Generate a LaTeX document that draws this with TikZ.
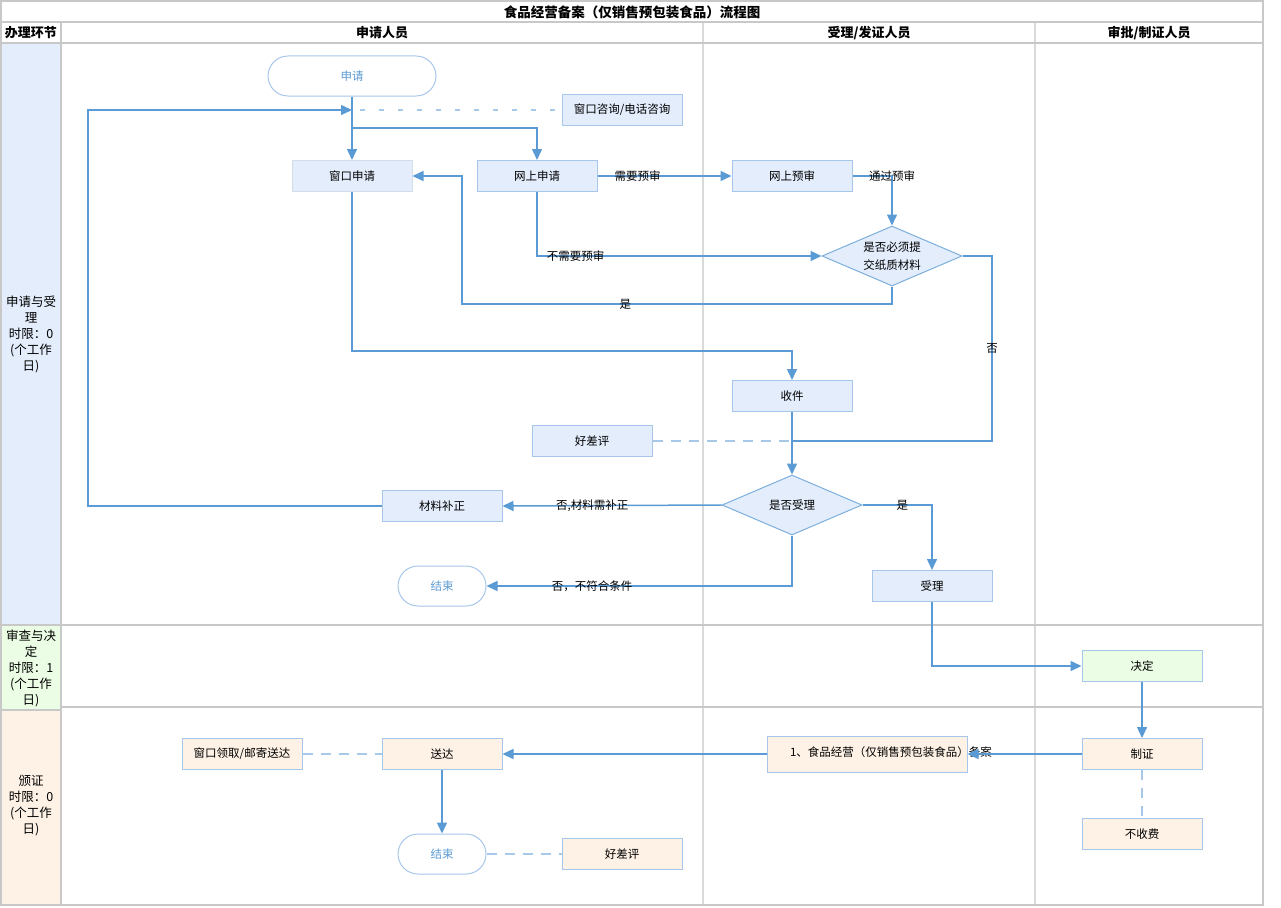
\documentclass[tikz,border=0pt]{standalone}
\usepackage{fontspec}
\setmainfont{Noto Sans CJK SC}
\usetikzlibrary{arrows.meta,shapes.geometric}
\definecolor{lineblue}{HTML}{5B9BD5}
\definecolor{boxfill}{HTML}{E3EDFC}
\definecolor{boxdraw}{HTML}{A7C7EA}
\definecolor{greyedge}{HTML}{D3DCE8}
\definecolor{dashblue}{HTML}{A8C8EA}
\definecolor{gridout}{HTML}{C8C8C8}
\definecolor{gridin}{HTML}{DADADA}
\definecolor{greenfill}{HTML}{EBFDE4}
\definecolor{peachfill}{HTML}{FEF2E6}
\newcommand{\fs}{\fontsize{11.5}{14}\selectfont}
\newcommand{\fl}{\fontsize{12.5}{16}\selectfont}
\begin{document}
\begin{tikzpicture}[x=1pt,y=-1pt,
  box/.style={draw=boxdraw, fill=boxfill, line width=1pt, minimum width=120pt, minimum height=31pt, inner sep=0pt, font=\fs},
  gbox/.style={box, fill=greenfill},
  pbox/.style={box, fill=peachfill},
  terminal/.style={draw=boxdraw, fill=white, line width=1pt, rounded corners=20pt, minimum height=40pt, inner sep=0pt, text=lineblue, font=\fs},
  decision/.style={diamond, aspect=2.33, draw=lineblue!80, fill=boxfill, line width=1pt, minimum width=140pt, minimum height=60pt, inner sep=0pt, align=center, font=\fs},
  conn/.style={draw=lineblue, line width=1.5pt, -{Triangle[length=11pt,width=10pt]}},
  plain/.style={draw=lineblue, line width=1.5pt},
  dashc/.style={draw=dashblue, line width=1.8pt, dash pattern=on 10pt off 8pt},
  dotc/.style={draw=dashblue, line width=1.8pt, dash pattern=on 5pt off 14pt},
  lbl/.style={font=\fs, inner sep=1pt},
  hdr/.style={font=\fontsize{13}{15}\selectfont\bfseries, inner sep=0pt},
  side/.style={font=\fl, align=center, inner sep=0pt}
]
\useasboundingbox (0,0) rectangle (1281,907);
% left column fills
\fill[boxfill] (1,43) rectangle (61,625);
\fill[greenfill] (1,625) rectangle (61,710);
\fill[peachfill] (1,710) rectangle (61,905);
% grid
\draw[gridin, line width=1.5pt] (703,22) -- (703,905);
\draw[gridin, line width=1.5pt] (1035,22) -- (1035,905);
\draw[gridout, line width=1.5pt] (61,625) -- (1263,625);
\draw[gridout, line width=1.5pt] (61,707) -- (1263,707);
\draw[gridout, line width=1.5pt] (1,625) -- (61,625);
\draw[gridout, line width=1.5pt] (1,710) -- (61,710);
\draw[gridout, line width=1.5pt] (61,22) -- (61,905);
\draw[gridout, line width=1.5pt] (1,22) -- (1263,22);
\draw[gridout, line width=1.5pt] (1,43) -- (1263,43);
\draw[gridout, line width=2pt] (1,1) rectangle (1263,905);
% headers
\node[hdr] (title) at (632,12) {\fontsize{13.5}{15}\selectfont 食品经营备案（仅销售预包装食品）流程图};
\node[hdr] (h0) at (31,33) {办理环节};
\node[hdr] (h1) at (382,33) {申请人员};
\node[hdr] (h2) at (869,33) {受理/发证人员};
\node[hdr] (h3) at (1149,33) {审批/制证人员};
\node[side] (s1) at (31,334) {申请与受\\理\\时限：0\\(个工作\\日)};
\node[side] (s2) at (31,668) {审查与决\\定\\时限：1\\(个工作\\日)};
\node[side] (s3) at (31,806) {颁证\\时限：0\\(个工作\\日)};
% nodes
\node[terminal, minimum width=168pt] (start) at (352,76) {申请};
\node[box] (zx) at (622,110) {窗口咨询/电话咨询};
\node[box, draw=greyedge] (wksq) at (352,176) {窗口申请};
\node[box] (wssq) at (537,176) {网上申请};
\node[box] (wsys) at (792,176) {网上预审};
\node[decision] (zz) at (892,256) {是否必须提\\[4pt]交纸质材料};
\node[box] (sj) at (792,396) {收件};
\node[box] (hcp1) at (592,441) {好差评};
\node[decision] (sfsl) at (792,505) {是否受理};
\node[box] (clbz) at (442,506) {材料补正};
\node[terminal, minimum width=88pt] (end1) at (442,586) {结束};
\node[box] (sl) at (932,586) {受理};
\node[gbox] (jd) at (1142,666) {决定};
\node[pbox] (zz2) at (1142,754) {制证};
\node[pbox] (bsf) at (1142,834) {不收费};
\node[pbox, minimum width=200pt, minimum height=36pt] (ba) at (867,754) {};
\node[lbl, inner sep=0pt] (batxt) at (891,752) {1、食品经营（仅销售预包装食品）备案};
\node[pbox] (sd) at (442,754) {送达};
\node[pbox] (lq) at (242,754) {窗口领取/邮寄送达};
\node[terminal, minimum width=88pt] (end2) at (442,854) {结束};
\node[pbox] (hcp2) at (622,854) {好差评};
% coordinates
\coordinate (j1) at (352,110);
\coordinate (br) at (352,128);
\coordinate (j2) at (792,441);
% connectors
\draw[conn] (start) -- (wksq);
\draw[conn] (br) -| (wssq);
\draw[conn] (clbz.west) -- (88,506) -- (88,110) -- (j1);
\draw[dotc] ([xshift=8pt]j1) -- (zx.west);
\draw[conn] (wssq) -- node[lbl, pos=0.3] (l1) {需要预审} (wsys);
\draw[conn] (wsys.east) -| node[lbl, pos=0.5] (l2) {通过预审} (zz.north);
\draw[conn] (wssq.south) |- node[lbl, pos=0.568] (l3) {不需要预审} (zz.west);
\draw[conn] (zz.south) -- (892,304) -- node[lbl, pos=0.62] (l4) {是} (462,304) -- (462,176) -- (wksq.east);
\draw[plain] (zz.east) -- (992,256) -- node[lbl, pos=0.5] (l5) {否} (992,441) -- (j2);
\draw[conn] (wksq.south) -- (352,351) -| (sj.north);
\draw[conn] (sj) -- (sfsl);
\draw[dashc] (hcp1.east) -- (j2);
\draw[conn] (sfsl.west) -- node[lbl, pos=0.59] (l6) {否,材料需补正} (clbz.east);
\draw[conn] (sfsl.south) |- node[lbl, pos=0.827] (l7) {否，不符合条件} (end1.east);
\draw[conn] (sfsl.east) -| node[lbl, pos=0.286] (l8) {是} (sl.north);
\draw[conn] (sl.south) |- (jd.west);
\draw[conn] (jd) -- (zz2);
\draw[conn] (zz2.west) -- (ba.east);
\draw[conn] (ba.west) -- (sd.east);
\draw[dashc] (zz2.south) -- (bsf.north);
\draw[dashc] (lq.east) -- (sd.west);
\draw[conn] (sd) -- (end2);
\draw[dashc] (end2.east) -- (hcp2.west);
\end{tikzpicture}
\end{document}
